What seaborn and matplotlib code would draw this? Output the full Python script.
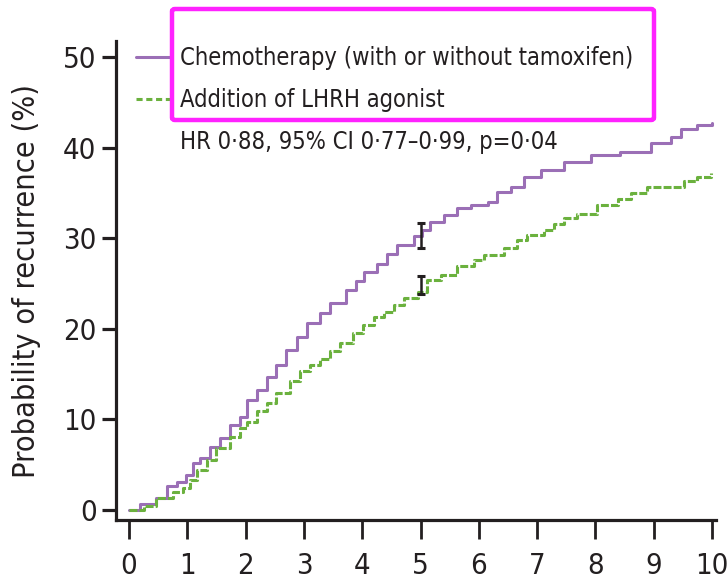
import matplotlib
matplotlib.use("Agg")
import matplotlib.pyplot as plt
from matplotlib import font_manager
from matplotlib.lines import Line2D
from matplotlib.patches import FancyBboxPatch
import seaborn as sns
import pandas as pd

# Cumulative recurrence (%) by years since randomisation
chemo_years = [0.0, 0.19, 0.47, 0.65, 0.82, 0.97, 1.10, 1.22, 1.39, 1.56, 1.73, 1.90,
               2.02, 2.19, 2.36, 2.53, 2.70, 2.88, 3.05, 3.28, 3.45, 3.73, 3.90, 4.03,
               4.26, 4.43, 4.60, 4.89, 5.03, 5.17, 5.40, 5.63, 5.86, 6.15, 6.32, 6.55,
               6.78, 7.06, 7.46, 7.92, 8.43, 8.95, 9.29, 9.46, 9.75, 10.0]
chemo_pct = [0.0, 0.7, 1.3, 2.6, 3.1, 3.9, 5.2, 5.7, 7.0, 7.9, 9.4, 10.3,
             12.1, 13.2, 14.7, 16.0, 17.7, 19.1, 20.6, 21.7, 22.8, 24.3, 25.3, 26.3,
             27.2, 28.3, 29.2, 30.2, 30.9, 31.8, 32.6, 33.3, 33.7, 34.0, 35.1, 35.7,
             36.8, 37.5, 38.4, 39.2, 39.5, 40.5, 41.2, 42.1, 42.5, 42.7]

lhrh_years = [0.0, 0.25, 0.47, 0.76, 0.93, 1.05, 1.16, 1.33, 1.50, 1.73, 1.90, 2.02,
              2.19, 2.36, 2.53, 2.76, 2.93, 3.10, 3.28, 3.45, 3.62, 3.85, 4.02, 4.20,
              4.37, 4.55, 4.72, 4.95, 5.12, 5.35, 5.63, 5.92, 6.09, 6.43, 6.66, 6.83,
              7.12, 7.29, 7.46, 7.69, 8.03, 8.38, 8.61, 8.89, 9.35, 9.52, 9.75, 9.98]
lhrh_pct = [0.0, 0.4, 1.3, 2.0, 2.4, 3.3, 4.4, 5.5, 6.8, 8.1, 9.0, 9.7,
            10.9, 11.8, 12.9, 14.2, 15.3, 16.0, 16.7, 17.5, 18.4, 19.5, 20.4, 21.3,
            21.9, 22.6, 23.4, 24.1, 25.4, 25.9, 26.9, 27.6, 28.1, 28.9, 29.8, 30.4,
            30.9, 31.6, 32.2, 32.7, 33.7, 34.3, 35.0, 35.6, 35.7, 36.3, 36.8, 37.2]

# 95% CI at 5 years
ci_year = [5.0, 5.0]
ci_mid = [30.3, 24.8]
ci_half = [1.4, 1.0]

x_ticks = list(range(0, 11))
y_ticks = [0, 10, 20, 30, 40, 50]
label_chemo = "Chemotherapy (with or without tamoxifen)"
label_lhrh = "Addition of LHRH agonist"
hr_text = "HR 0\u00b788, 95% CI 0\u00b777\u20130\u00b799, p=0\u00b704"

PURPLE = "#9b6fb6"
GREEN = "#6bb13e"
INK = "#231f20"

# Prefer the narrowest regular-weight sans face that is installed
STRETCH_RANK = {"ultra-condensed": 1, "extra-condensed": 2, "condensed": 3,
                "semi-condensed": 4}
narrow, best = None, 99
for f in font_manager.fontManager.ttflist:
    if "Mono" in f.name or "Serif" in f.name or f.style != "normal":
        continue
    if f.weight not in (400, "normal", "regular"):
        continue
    st = f.stretch
    if isinstance(st, (int, float)):
        rank = 1 + max(0, (st - 100) // 100) if st < 500 else 99
    else:
        rank = STRETCH_RANK.get(str(st).lower(), 99)
        if rank == 99 and ("Condensed" in f.name or "Narrow" in f.name):
            rank = 3
    if rank < best:
        narrow, best = f, rank

sns.set_theme(style="white")
if narrow is not None:
    plt.rcParams["font.family"] = [narrow.name, "DejaVu Sans"]
    plt.rcParams["font.stretch"] = narrow.stretch
    tick_size, text_size, label_size = 21, 17, 22
else:
    plt.rcParams["font.family"] = ["Liberation Sans", "DejaVu Sans"]
    tick_size, text_size, label_size = 19, 15, 19

fig = plt.figure(figsize=(7.28, 5.83), dpi=100)
W, H = 728, 583
left, right, bottom, top = 116, 716, 520, 41
ax = fig.add_axes([left / W, 1 - bottom / H, (right - left) / W, (bottom - top) / H])

chemo_df = pd.DataFrame({"year": chemo_years, "pct": chemo_pct})
lhrh_df = pd.DataFrame({"year": lhrh_years, "pct": lhrh_pct})

sns.lineplot(data=chemo_df, x="year", y="pct", ax=ax, color=PURPLE, lw=2.2,
             drawstyle="steps-post", estimator=None, sort=False)
sns.lineplot(data=lhrh_df, x="year", y="pct", ax=ax, color=GREEN, lw=2.2,
             drawstyle="steps-post", estimator=None, sort=False,
             dashes=False, linestyle=(0, (2.6, 0.7)))

ax.errorbar(ci_year, ci_mid, yerr=ci_half, fmt="none", ecolor=INK,
            elinewidth=1.8, capsize=3, capthick=2.2, zorder=5)

# axis ranges chosen so 0 sits slightly inside both spines
ax.set_xlim(-13 / 58.3, 10 + 4 / 58.3)
ax.set_ylim(-10 / 9.06, 50 + 16 / 9.06)
ax.set_xticks(x_ticks)
ax.set_yticks(y_ticks)
ax.set_xlabel("")
ax.set_ylabel("Probability of recurrence (%)", fontsize=label_size, color=INK,
              labelpad=16)

sns.despine(ax=ax)
for side in ("left", "bottom"):
    ax.spines[side].set_linewidth(2.3)
    ax.spines[side].set_color(INK)
ax.tick_params(axis="x", direction="out", length=14, width=2.0, color=INK,
               labelsize=tick_size, labelcolor=INK, pad=9, bottom=True)
ax.tick_params(axis="y", direction="out", length=10, width=2.3, color=INK,
               labelsize=tick_size, labelcolor=INK, pad=4, left=True)

px = text_size * 100 / 72  # font size in pixels
handles = [Line2D([], [], color=PURPLE, lw=2.2),
           Line2D([], [], color=GREEN, lw=2.2, linestyle=(0, (2.0, 1.2))),
           Line2D([], [], color="none")]
leg = fig.legend(handles, [label_chemo, label_lhrh, hr_text], loc="upper left",
                 bbox_to_anchor=(136 / W, 1 - 46 / H), frameon=False,
                 fontsize=text_size, handlelength=36 / px, handletextpad=8 / px,
                 labelspacing=(46.5 - 1.2 * px) / px, borderpad=0, borderaxespad=0,
                 labelcolor=INK)

box = FancyBboxPatch((172 / W, 1 - 120 / H), (654 - 172) / W, (120 - 9) / H,
                     boxstyle="round,pad=0,rounding_size=0.004",
                     transform=fig.transFigure, facecolor="none",
                     edgecolor="#ff22ff", lw=3.2, zorder=10)
fig.patches.append(box)

fig.savefig("out.png", dpi=100)
